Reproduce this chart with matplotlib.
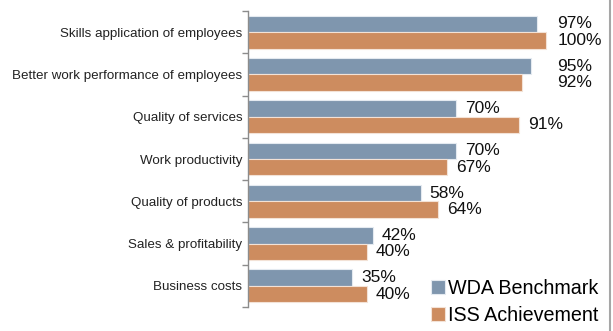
import numpy as np
import matplotlib.pyplot as plt
from matplotlib.lines import Line2D

plt.rcParams['font.family'] = ['Liberation Sans', 'DejaVu Sans']

categories = ["Skills application of employees",
              "Better work performance of employees",
              "Quality of services",
              "Work productivity",
              "Quality of products",
              "Sales & profitability",
              "Business costs"]
wda = [97, 95, 70, 70, 58, 42, 35]
iss = [100, 92, 91, 67, 64, 40, 40]

blue = '#7f96ae'
orange = '#cd8c5f'

fig = plt.figure(figsize=(6.13, 3.31), dpi=100)
ax = fig.add_axes([248/613, 1-307/331, (605-248)/613, (307-11)/331])

y = np.arange(len(categories))
h = 0.39
ax.barh(y - h/2, wda, height=h, color=blue, edgecolor='#e4eaf0', linewidth=0.8, label='WDA Benchmark')
ax.barh(y + h/2, iss, height=h, color=orange, edgecolor='#f3e2d6', linewidth=0.8, label='ISS Achievement')

# value labels (top groups pushed into one column like the original)
for i in range(len(categories)):
    for v, off in ((wda[i], -h/2), (iss[i], h/2)):
        x = v + 3 if v < 92 else 104
        ax.text(x, i + off, f"{v}%", ha='left', va='center', fontsize=12.5, color='#111111')

ax.set_xlim(0, 120)
ax.set_ylim(len(categories) - 0.5, -0.5)
ax.set_yticks(y)
ax.set_yticklabels(categories, fontsize=9.6, color='#222222')
ax.set_yticks(np.arange(len(categories) + 1) - 0.5, minor=True)
ax.tick_params(axis='y', which='major', length=0, pad=4)
ax.tick_params(axis='y', which='minor', length=4, width=1, color='#8c8c8c', direction='out')
ax.set_xticks([])
for s in ('top', 'right', 'bottom'):
    ax.spines[s].set_visible(False)
ax.spines['left'].set_color('#8c8c8c')
ax.spines['left'].set_linewidth(1)

fig.legend(loc='upper left', bbox_to_anchor=(431/613, 1-279/331), frameon=False,
           fontsize=14.2, handlelength=0.72, handleheight=0.7, handletextpad=0.15,
           labelspacing=0.4, borderpad=0, borderaxespad=0)

fig.add_artist(Line2D([609.5/613, 609.5/613], [0, 1], transform=fig.transFigure,
                      color='#a6a6a6', linewidth=1.5))

fig.savefig('out.png', dpi=100)
